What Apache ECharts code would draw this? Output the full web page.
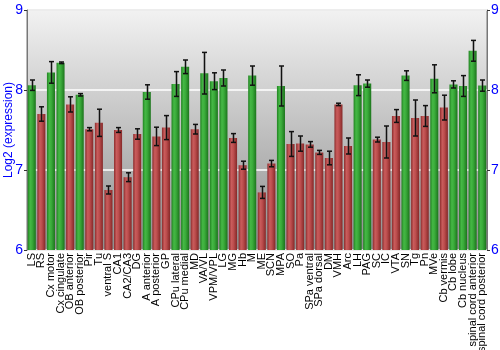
<!DOCTYPE html>
<html>
<head>
<meta charset="utf-8">
<script src="https://cdn.jsdelivr.net/npm/echarts@6/dist/echarts.min.js"></script>
<style>
html,body{margin:0;padding:0;background:#fff;}
#chart{width:500px;height:350px;}
</style>
</head>
<body>
<div id="chart"></div>
<script>
// Brain regions
const regions = ['LS','RS','Cx motor','Cx cingulate','OB anterior','OB posterior','Pir','Tu','ventral S','CA1','CA2/CA3','DG','A anterior','A posterior','GP','CPu lateral','CPu medial','MD','VA/VL','VPM/VPL','LG','MG','Hb','M','ME','SCN','MPA','SO','Pa','SPa ventral','SPa dorsal','DM','VMH','Arc','LH','PAG','SC','IC','VTA','SN','Tg','Pn','MVe','Cb vermis','Cb lobe','Cb nucleus','spinal cord anterior','spinal cord posterior'];
// Mean log2 expression per region
const meanExpr = [8.06,7.70,8.22,8.34,7.82,7.94,7.51,7.59,6.75,7.50,6.91,7.45,7.975,7.42,7.53,8.075,8.29,7.51,8.21,8.11,8.15,7.40,7.06,8.18,6.72,7.08,8.05,7.325,7.33,7.32,7.22,7.15,7.82,7.30,8.06,8.08,7.38,7.35,7.675,8.18,7.65,7.675,8.14,7.78,8.07,8.05,8.49,8.055];
// Standard error per region
const stdErr = [0.065,0.09,0.135,0.01,0.095,0.015,0.02,0.17,0.05,0.03,0.055,0.065,0.09,0.115,0.15,0.155,0.085,0.06,0.26,0.105,0.10,0.055,0.05,0.12,0.075,0.04,0.25,0.155,0.095,0.035,0.025,0.085,0.015,0.10,0.13,0.045,0.03,0.20,0.08,0.06,0.225,0.13,0.175,0.155,0.045,0.13,0.13,0.07];
// Expression class: 1 = high, 0 = low
const highClass = [1,0,1,1,0,1,0,0,0,0,0,0,1,0,0,1,1,0,1,1,1,0,0,1,0,0,1,0,0,0,0,0,0,0,1,1,0,0,0,1,0,0,1,0,1,1,1,1];
const yTicks = [6,7,8,9];

const G = echarts.graphic;
const greenFill = new G.LinearGradient(0,0,1,0,[
  {offset:0,color:'#218221'},{offset:0.3,color:'#45b845'},{offset:0.55,color:'#3aab3a'},{offset:1,color:'#1c741c'}]);
const redFill = new G.LinearGradient(0,0,1,0,[
  {offset:0,color:'#8c2c2c'},{offset:0.3,color:'#c95c5c'},{offset:0.55,color:'#bd4e4e'},{offset:1,color:'#852828'}]);

const barData = meanExpr.map((v,i)=>({value:v,itemStyle:{color: highClass[i] ? greenFill : redFill}}));
const errData = meanExpr.map((v,i)=>[i, v - stdErr[i], v + stdErr[i]]);

const axisLabelStyle = {color:'#0000ff', fontSize:14, fontFamily:'Liberation Sans, Arial, sans-serif'};

const chart = echarts.init(document.getElementById('chart'), null, {renderer:'canvas'});
chart.setOption({
  animation:false,
  grid:{left:27,right:13,top:10,bottom:100,show:true,borderColor:'#777',borderWidth:1,
    outerBoundsMode:'none',containLabel:false,
    backgroundColor:new G.LinearGradient(0,0,0,1,[{offset:0,color:'#f2f2f2'},{offset:1,color:'#8e8e8e'}])},
  xAxis:{type:'category',data:regions,
    axisLine:{show:false},axisTick:{show:false},
    axisLabel:{rotate:90,interval:0,margin:3,color:'#000',fontSize:11,fontFamily:'Liberation Sans, Arial, sans-serif'}},
  yAxis:[
    {type:'value',min:6,max:9,interval:1,position:'left',
     name:'Log2 (expression)',nameLocation:'middle',nameGap:12,nameMoveOverlap:false,
     nameTextStyle:{color:'#0000ff',fontSize:12,fontFamily:'Liberation Sans, Arial, sans-serif'},
     axisLine:{show:true,lineStyle:{color:'#777'}},
     axisTick:{show:true,length:3,lineStyle:{color:'#333'}},
     axisLabel:Object.assign({margin:4},axisLabelStyle),
     splitLine:{show:true,lineStyle:{color:'#ffffff',width:1.5}}},
    {type:'value',min:6,max:9,interval:1,position:'right',
     axisLine:{show:true,lineStyle:{color:'#777'}},
     axisTick:{show:true,length:3,lineStyle:{color:'#333'}},
     axisLabel:Object.assign({margin:4},axisLabelStyle),
     splitLine:{show:false}}
  ],
  series:[
    {type:'bar',data:barData,barCategoryGap:'16%',z:2},
    {type:'custom',data:errData,z:5,
     renderItem:function(params,api){
       const x = api.value(0);
       const lo = api.coord([x, api.value(1)]);
       const hi = api.coord([x, api.value(2)]);
       const cx = Math.round(lo[0]) + 0.5;
       const cap = 2.5;
       const style = {stroke:'#111',lineWidth:1};
       return {type:'group',children:[
         {type:'line',shape:{x1:cx,y1:hi[1],x2:cx,y2:lo[1]},style:{stroke:'rgba(60,60,60,0.35)',lineWidth:3}},
         {type:'line',shape:{x1:cx,y1:hi[1],x2:cx,y2:lo[1]},style:style},
         {type:'line',shape:{x1:cx-cap,y1:hi[1],x2:cx+cap,y2:hi[1]},style:{stroke:'#111',lineWidth:1.5}},
         {type:'line',shape:{x1:cx-cap,y1:lo[1],x2:cx+cap,y2:lo[1]},style:{stroke:'#111',lineWidth:1.5}}
       ]};
     }}
  ]
});
</script>
</body>
</html>
